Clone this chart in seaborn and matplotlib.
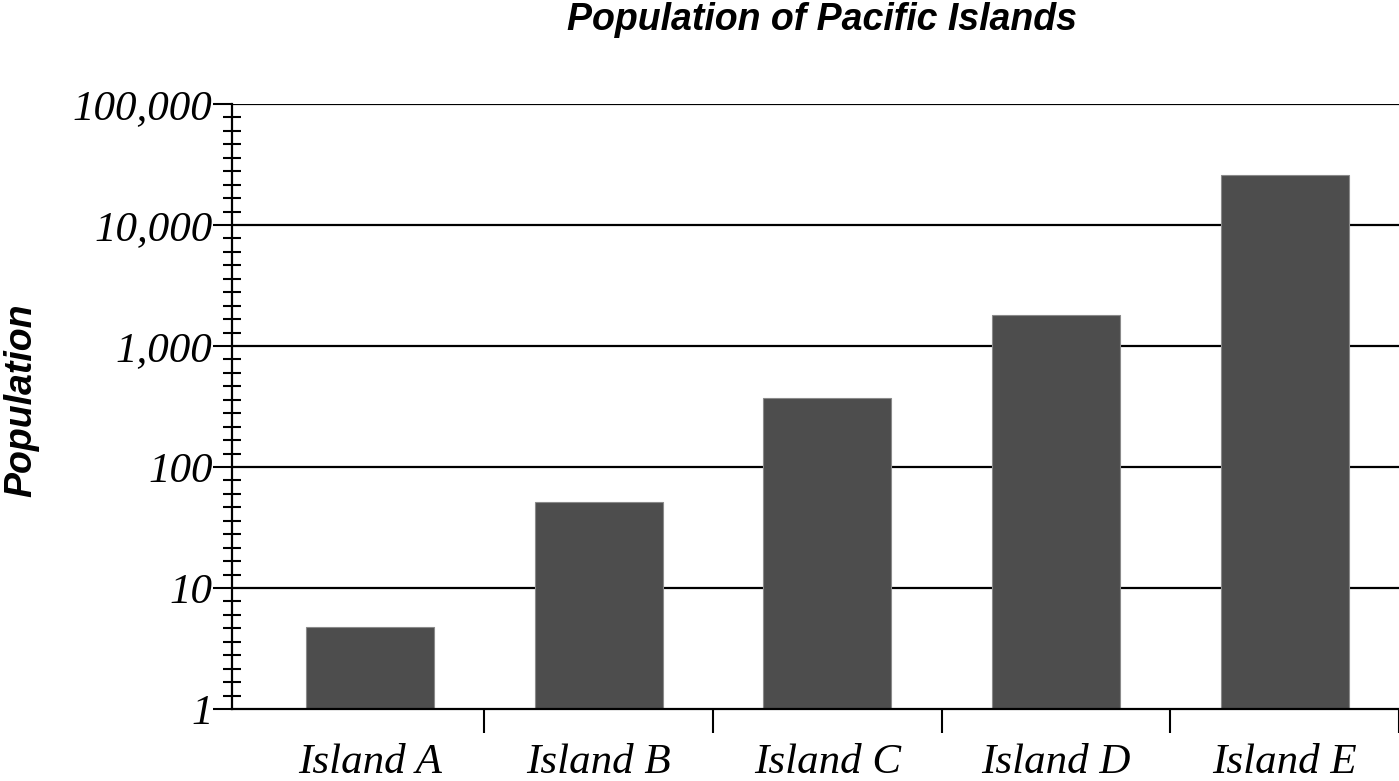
import matplotlib
matplotlib.use("Agg")
import matplotlib.pyplot as plt
import matplotlib.ticker as mticker
import seaborn as sns
import pandas as pd
import numpy as np

islands = ["Island A", "Island B", "Island C", "Island D", "Island E"]
population = [4.8, 51, 372, 1800, 26000]
ytick_values = [1, 10, 100, 1000, 10000, 100000]
ytick_labels = ["1", "10", "100", "1,000", "10,000", "100,000"]

sns.set_theme(style="white")
plt.rcParams["font.family"] = ["DejaVu Sans"]
plt.rcParams["text.color"] = "black"
plt.rcParams["xtick.color"] = "black"
plt.rcParams["ytick.color"] = "black"
plt.rcParams["axes.labelcolor"] = "black"

df = pd.DataFrame({"island": islands, "population": population})

fig = plt.figure(figsize=(13.99, 7.81), dpi=100)
ax = fig.add_axes([232/1399, 1-709/781, 1-232/1399, (709-104)/781])

sns.barplot(data=df, x="island", y="population", color="#4d4d4d",
            saturation=1, width=0.56, edgecolor="#8a8a8a", linewidth=0.8,
            ax=ax, zorder=3)

ax.set_yscale("log")
ax.set_ylim(1, 100000)
ax.set_xlim(-0.603, 4.5)

ax.set_yticks(ytick_values)
ax.set_yticklabels(ytick_labels, fontfamily="Liberation Serif", fontstyle="italic",
                   fontsize=31, color="black")
minor_pos = [10 ** (k + j / 9) for k in range(5) for j in range(1, 9)]
ax.yaxis.set_minor_locator(mticker.FixedLocator(minor_pos))
ax.yaxis.set_minor_formatter(mticker.NullFormatter())
ax.tick_params(axis="y", which="major", direction="out", length=14, width=1.5,
               color="black", pad=0, left=True)
ax.tick_params(axis="y", which="minor", direction="inout", length=13, width=1.5,
               color="black", left=True)

ax.set_xticks(range(len(islands)))
ax.set_xticklabels(islands, fontfamily="Liberation Serif", fontstyle="italic",
                   fontsize=31, color="black")
ax.set_xticks([0.5, 1.5, 2.5, 3.5, 4.5], minor=True)
ax.tick_params(axis="x", which="major", length=0, pad=25)
ax.tick_params(axis="x", which="minor", direction="out", length=17, width=1.5,
               color="black", bottom=True)

ax.grid(False)
for v in ytick_values[1:]:
    ax.axhline(v, color="black", linewidth=1.6, zorder=1)

for s in ["top", "right"]:
    ax.spines[s].set_visible(False)
for s in ["left", "bottom"]:
    ax.spines[s].set_color("black")
    ax.spines[s].set_linewidth(1.6)
    ax.spines[s].set_zorder(4)

ax.set_xlabel("")
ax.set_ylabel("Population", fontfamily="Liberation Sans", fontweight="heavy",
              fontstyle="italic", fontsize=27, color="black")
ax.yaxis.set_label_coords((39 - 232) / (1399 - 232), 0.51)

fig.text(822/1399, 1-20/781, "Population of Pacific Islands", ha="center", va="center",
         fontfamily="Liberation Sans", fontweight="heavy", fontstyle="italic",
         fontsize=27, color="black")

fig.savefig("out.png", dpi=100)
